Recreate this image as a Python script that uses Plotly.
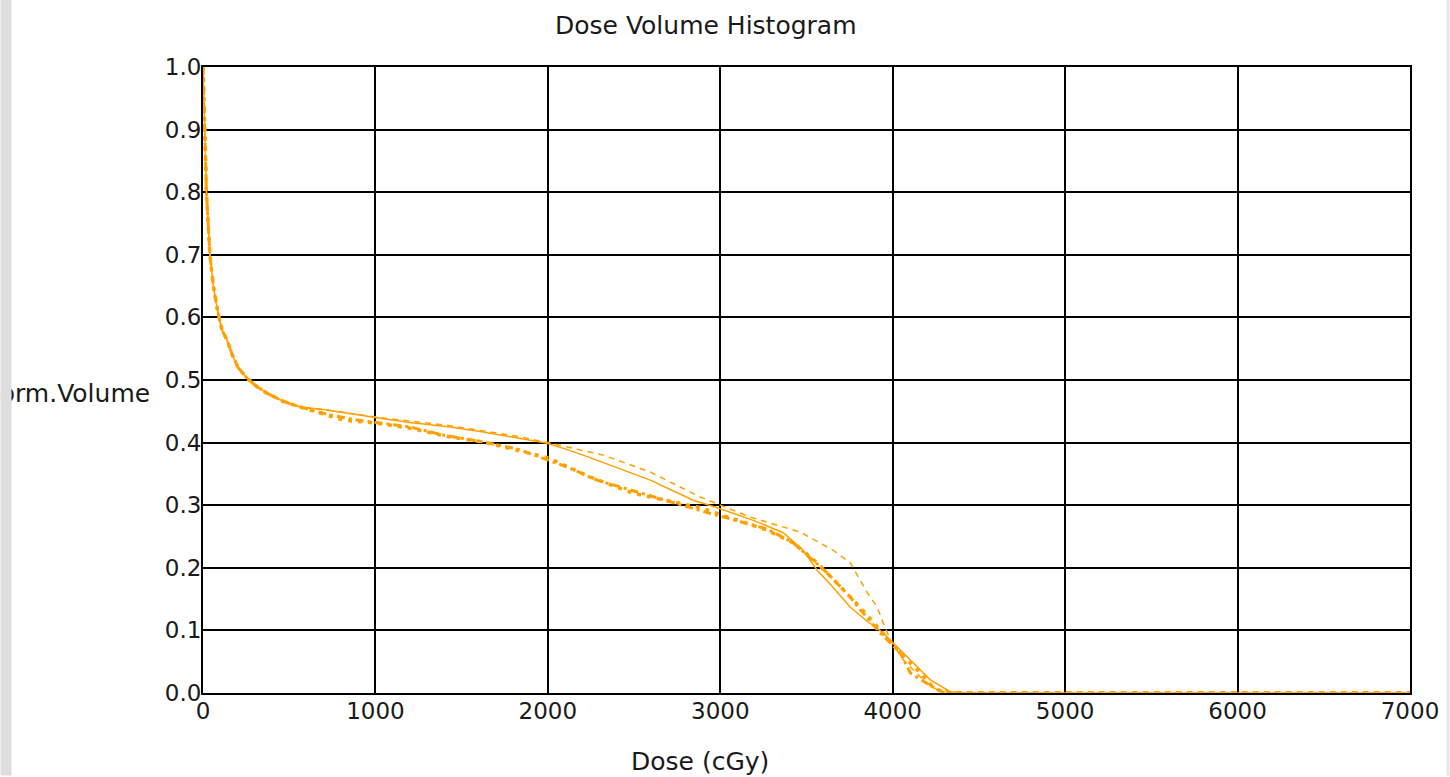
import plotly.graph_objects as go

# ---- data ----
dose_solid = [0, 8, 20, 40, 60, 87, 110, 139, 170, 203, 255, 310, 371, 464, 563, 719, 850, 1027, 1200, 1433,
              1625, 1822, 1996, 2100, 2205, 2400, 2594, 2843, 2983, 3200, 3365, 3481, 3562, 3650, 3754, 3850,
              3945, 4003, 4102, 4218, 4334, 4400, 5000, 6000, 7000]
vol_solid = [1.0, 0.9, 0.8, 0.7, 0.65, 0.607, 0.58, 0.564, 0.54, 0.52, 0.503, 0.49, 0.479, 0.466, 0.457, 0.452,
             0.446, 0.439, 0.432, 0.425, 0.417, 0.407, 0.399, 0.39, 0.38, 0.36, 0.34, 0.308, 0.296, 0.275, 0.256,
             0.228, 0.196, 0.17, 0.137, 0.115, 0.096, 0.08, 0.053, 0.021, 0.002, 0.0, 0.0, 0.0, 0.0]

dose_dash = [0, 8, 20, 40, 60, 87, 110, 139, 170, 203, 255, 310, 371, 464, 563, 719, 1027, 1433, 1822, 2000,
             2205, 2321, 2594, 2884, 3174, 3464, 3655, 3754, 3853, 3910, 3945, 3986, 4061, 4177, 4258, 4350,
             5000, 6000, 7000]
vol_dash = [1.0, 0.9, 0.8, 0.7, 0.65, 0.607, 0.58, 0.564, 0.54, 0.52, 0.503, 0.49, 0.479, 0.466, 0.457, 0.452,
            0.44, 0.427, 0.41, 0.40, 0.388, 0.38, 0.353, 0.313, 0.281, 0.257, 0.228, 0.208, 0.16, 0.137, 0.112,
            0.085, 0.053, 0.021, 0.005, 0.002, 0.002, 0.002, 0.002]

dose_dot = [0, 8, 20, 40, 60, 87, 110, 139, 170, 203, 255, 310, 371, 464, 563, 812, 1009, 1201, 1433, 1625,
            1822, 2013, 2054, 2246, 2495, 2884, 3272, 3423, 3562, 3696, 3812, 3928, 4044, 4150, 4230, 4300, 4400]
vol_dot = [1.0, 0.9, 0.8, 0.7, 0.65, 0.607, 0.58, 0.564, 0.54, 0.52, 0.503, 0.49, 0.479, 0.466, 0.457, 0.436,
           0.431, 0.423, 0.409, 0.401, 0.388, 0.375, 0.369, 0.345, 0.319, 0.296, 0.26, 0.24, 0.208, 0.17, 0.137,
           0.1, 0.064, 0.035, 0.01, 0.0, 0.0]

dose_dashdot = [0, 8, 20, 40, 60, 87, 110, 139, 170, 203, 255, 310, 371, 464, 563, 737, 894, 1201, 1393, 1625,
                1822, 2112, 2286, 2594, 2900, 3272, 3423, 3620, 3754, 3812, 3928, 4044, 4102, 4230, 4300, 4400]
vol_dashdot = [1.0, 0.9, 0.8, 0.7, 0.65, 0.607, 0.58, 0.564, 0.54, 0.52, 0.503, 0.49, 0.479, 0.466, 0.457, 0.444,
               0.436, 0.425, 0.412, 0.401, 0.39, 0.361, 0.34, 0.315, 0.29, 0.262, 0.24, 0.192, 0.153, 0.133,
               0.096, 0.064, 0.032, 0.01, 0.0, 0.0]

x_ticks = [0, 1000, 2000, 3000, 4000, 5000, 6000, 7000]
y_ticks = [0.0, 0.1, 0.2, 0.3, 0.4, 0.5, 0.6, 0.7, 0.8, 0.9, 1.0]

ORANGE = "#ffa000"
FONT = "DejaVu Sans"
TXT = "#1a1a1a"

fig = go.Figure()
fig.add_trace(go.Scatter(x=dose_solid, y=vol_solid, mode="lines",
                         line=dict(color=ORANGE, width=1.5), showlegend=False))
fig.add_trace(go.Scatter(x=dose_dash, y=vol_dash, mode="lines",
                         line=dict(color=ORANGE, width=1.5, dash="6px,5px"), showlegend=False))
fig.add_trace(go.Scatter(x=dose_dot, y=vol_dot, mode="lines",
                         line=dict(color=ORANGE, width=3.5, dash="4px,6px"), showlegend=False))
fig.add_trace(go.Scatter(x=dose_dashdot, y=vol_dashdot, mode="lines",
                         line=dict(color=ORANGE, width=3, dash="8px,4px,3px,4px"), showlegend=False))

fig.update_layout(
    width=1450, height=777,
    margin=dict(l=203, r=40, t=67, b=84),
    paper_bgcolor="white", plot_bgcolor="white",
    font=dict(family=FONT, size=23, color=TXT),
    xaxis=dict(range=[0, 7000], tickvals=x_ticks, ticktext=[str(v) for v in x_ticks],
               showgrid=True, gridcolor="black", gridwidth=2, zeroline=False,
               showline=True, linecolor="black", linewidth=2, mirror=True,
               ticks="", ticklabelstandoff=-4, tickfont=dict(family=FONT, size=23, color=TXT)),
    yaxis=dict(range=[0, 1], tickvals=y_ticks, ticktext=[f"{v:.1f}" for v in y_ticks],
               showgrid=True, gridcolor="black", gridwidth=2, zeroline=False,
               showline=True, linecolor="black", linewidth=2, mirror=True,
               ticks="", ticklabelstandoff=-5, tickfont=dict(family=FONT, size=23, color=TXT)),
    annotations=[
        dict(text="Dose Volume Histogram", xref="paper", yref="paper", x=0.417, y=1.067,
             xanchor="center", yanchor="middle", showarrow=False,
             font=dict(family=FONT, size=25, color=TXT)),
        dict(text="Dose (cGy)", xref="paper", yref="paper", x=0.412, y=-0.11,
             xanchor="center", yanchor="middle", showarrow=False,
             font=dict(family=FONT, size=25, color=TXT)),
        dict(text="Norm.Volume", xref="paper", yref="paper", x=-0.0423, y=0.479,
             xanchor="right", yanchor="middle", showarrow=False,
             font=dict(family=FONT, size=25, color=TXT)),
        # left gray window strip drawn over the clipped label
        dict(text=" ", xref="paper", yref="paper", x=-0.1682, y=0.5, xanchor="left", yanchor="middle",
             width=10, height=790, bgcolor="#dedede", borderpad=0, showarrow=False),
        dict(text=" ", xref="paper", yref="paper", x=1.0298, y=0.5, xanchor="left", yanchor="middle",
             width=2, height=790, bgcolor="#e6e6e6", borderpad=0, showarrow=False),
    ],
)

fig.write_html("out.html", config={"displayModeBar": False},
               post_script="document.body.style.margin='0';document.body.style.overflow='hidden';")
